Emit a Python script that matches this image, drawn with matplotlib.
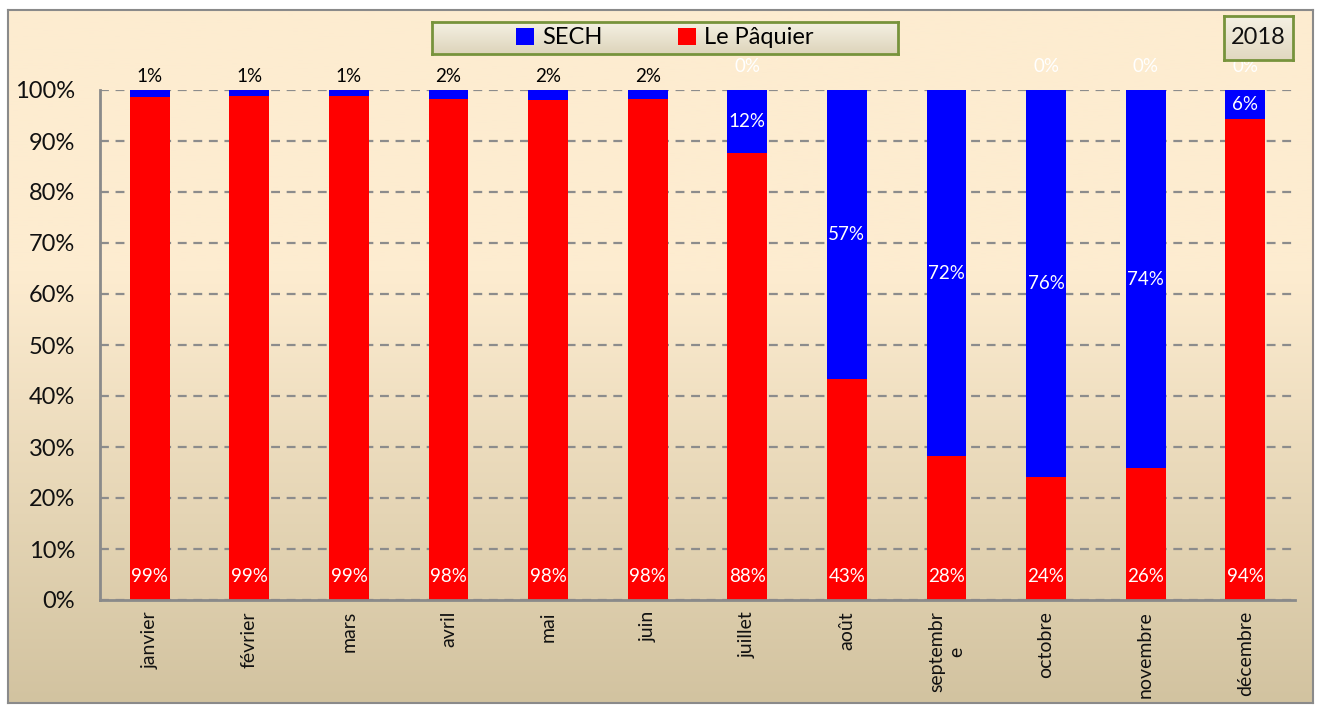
import numpy as np
import matplotlib.pyplot as plt

plt.rcParams['font.family'] = ['Lato', 'DejaVu Sans']

mois = ['janvier', 'février', 'mars', 'avril', 'mai', 'juin', 'juillet',
        'août', 'septembr\ne', 'octobre', 'novembre', 'décembre']
paquier = [98.7, 98.8, 98.8, 98.3, 98.1, 98.2, 87.6, 43.4, 28.2, 24.2, 25.8, 94.3]
sech = [1.3, 1.2, 1.2, 1.7, 1.9, 1.8, 12.4, 56.6, 71.8, 75.8, 74.2, 5.7]
# third (empty) series, only its "0%" labels are visible
autre = [None, None, None, None, None, None, 0, None, None, 0, 0, 0]

W, H = 1319, 705
fig = plt.figure(figsize=(W / 100, H / 100), dpi=100)
fig.patch.set_facecolor('white')


def gradient_box(rect, c_top, c_bot, start=0.0, edge='#8a8a8a', lw=1.5, z=-10):
    a = fig.add_axes(rect, zorder=z)
    yy = np.linspace(0, 1, 256)
    t = np.clip((yy - start) / (1 - start), 0, 1)
    c1 = np.array(c_top) / 255
    c2 = np.array(c_bot) / 255
    g = c1[None, :] * (1 - t[:, None]) + c2[None, :] * t[:, None]
    a.imshow(g[:, None, :], aspect='auto', extent=[0, 1, 1, 0])
    a.set_xticks([])
    a.set_yticks([])
    for s in a.spines.values():
        s.set_color(edge)
        s.set_linewidth(lw)
    return a


# chart area background
gradient_box([8 / W, 1 - 703 / H, 1305 / W, 693 / H], (253, 236, 208), (210, 195, 160), start=0.38)

ax = fig.add_axes([100 / W, 1 - 600 / H, 1195 / W, 510 / H])
ax.patch.set_alpha(0)
x = np.arange(len(mois))
b1 = ax.bar(x, paquier, width=0.4, color='#ff0000', label='Le Pâquier', zorder=3)
b2 = ax.bar(x, sech, width=0.4, bottom=paquier, color='#0000ff', label='SECH', zorder=3)

ax.set_xlim(-0.5, len(mois) - 0.5)
ax.set_ylim(0, 100)
ax.set_yticks(np.arange(0, 101, 10))
ax.set_yticklabels([f'{v}%' for v in range(0, 101, 10)])
ax.set_xticks(x)
ax.set_xticklabels(mois, rotation=90, multialignment='center')
ax.tick_params(axis='y', length=0, pad=18, labelsize=17, colors='#111111')
ax.tick_params(axis='x', length=0, pad=8, labelsize=14, colors='#111111')
ax.yaxis.grid(True, color='#8c8c8c', linestyle=(0, (4, 3)), linewidth=1.6, zorder=1)
ax.set_axisbelow(True)
for side in ['top', 'right']:
    ax.spines[side].set_visible(False)
for side in ['left', 'bottom']:
    ax.spines[side].set_color('#8a8a8a')
    ax.spines[side].set_linewidth(2)
    ax.spines[side].set_zorder(4)

# data labels
fs = 13.5
for i in range(len(mois)):
    ax.annotate(f'{paquier[i]:.0f}%', (x[i], 0), xytext=(0, 23), textcoords='offset pixels',
                ha='center', va='center', color='white', fontsize=fs, zorder=5)
    if sech[i] < 3:
        ax.annotate(f'{sech[i]:.0f}%', (x[i], 100), xytext=(0, 13), textcoords='offset pixels',
                    ha='center', va='center', color='black', fontsize=fs, zorder=5)
    else:
        yc = paquier[i] + sech[i] / 2
        ax.text(x[i], yc, f'{sech[i]:.0f}%', ha='center', va='center', color='white',
                fontsize=fs, zorder=5)
    if autre[i] is not None:
        ax.annotate(f'{autre[i]}%', (x[i], 100), xytext=(0, 23), textcoords='offset pixels',
                    ha='center', va='center', color='white', fontsize=fs, zorder=5)

# legend box
gradient_box([432 / W, 1 - 54 / H, 466 / W, 32 / H], (245, 241, 228), (221, 212, 186),
             edge='#77933c', lw=2, z=5)
leg = fig.legend([b2, b1], ['SECH', 'Le Pâquier'], loc='center', bbox_to_anchor=(665 / W, 1 - 38 / H),
                 ncol=2, frameon=False, fontsize=17, handlelength=0.75, handleheight=0.75,
                 handletextpad=0.35, columnspacing=3.2)
leg.set_zorder(6)

# year box
yb = gradient_box([1224 / W, 1 - 60 / H, 69 / W, 44 / H], (245, 241, 228), (225, 216, 192),
                  edge='#77933c', lw=2, z=5)
yb.text(0.5, 0.5, '2018', transform=yb.transAxes, ha='center', va='center', fontsize=17,
        color='#111111')

plt.savefig('out.png', dpi=100)
